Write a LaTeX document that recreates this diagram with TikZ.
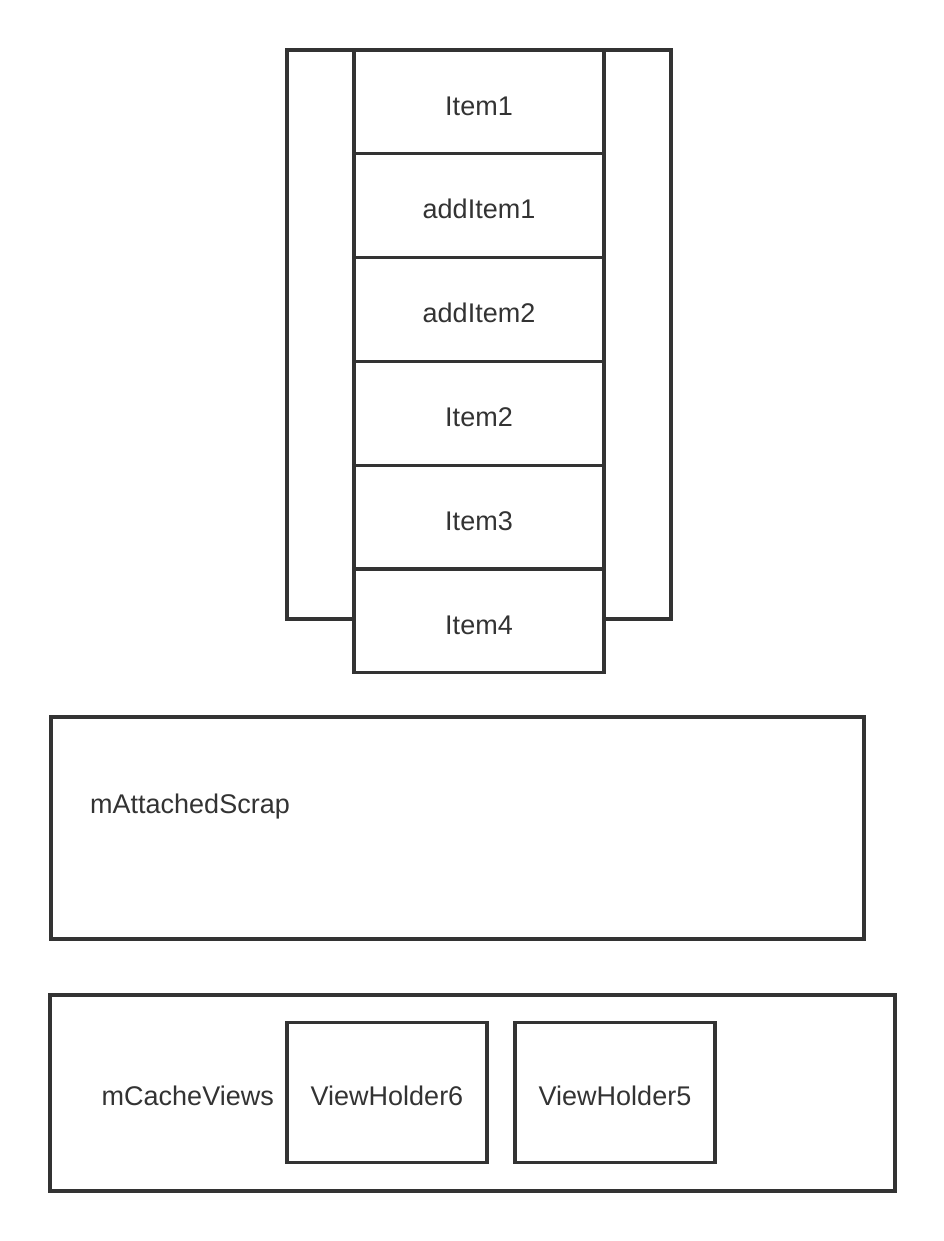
\documentclass[tikz,border=0pt]{standalone}
\usepackage{fontspec}
\setmainfont{Liberation Sans}
\usetikzlibrary{positioning}
\definecolor{darkline}{RGB}{51,51,51}

\begin{document}
\begin{tikzpicture}[x=1pt, y=-1pt,
        framebox/.style={shape=rectangle, draw=darkline, line width=3.3pt, inner sep=0pt, outer sep=0pt},
        itembox/.style={framebox, fill=white, minimum width=250pt, minimum height=103.8pt},
        holderbox/.style={framebox, minimum width=200pt, minimum height=139.5pt},
        boxtext/.style={text=darkline, font=\fontsize{27}{31}\selectfont, text height=26.5pt, text depth=0pt}]
        \useasboundingbox (0, 0) rectangle (944, 1241);
        % RecyclerView frame
        \node[framebox, minimum width=384pt, minimum height=569pt] (frame) at (479, 334.5) {};
        % Items
        \node[itembox, boxtext] (item1) at (479, 101.9) {Item1};
        \node[itembox, boxtext, below=0pt of item1] (additem1) {addItem1};
        \node[itembox, boxtext, below=0pt of additem1] (additem2) {addItem2};
        \node[itembox, boxtext, below=0pt of additem2] (item2) {Item2};
        \node[itembox, boxtext, below=0pt of item2] (item3) {Item3};
        \node[itembox, boxtext, below=0pt of item3] (item4) {Item4};
        % mAttachedScrap
        \node[framebox, minimum width=813pt, minimum height=222pt] (scrap) at (457.5, 828) {};
        \node[boxtext, anchor=base west, inner sep=0pt] (scraptext) at (90, 813) {mAttachedScrap};
        % mCacheViews
        \node[framebox, minimum width=845pt, minimum height=196pt] (cache) at (472.5, 1093) {};
        \node[holderbox, boxtext] (holder6) at (387, 1092.5) {ViewHolder6};
        \node[holderbox, boxtext] (holder5) at (615, 1092.5) {ViewHolder5};
        \node[boxtext, inner sep=0pt, left=13pt of holder6] (cachetext) {mCacheViews};
\end{tikzpicture}
\end{document}
